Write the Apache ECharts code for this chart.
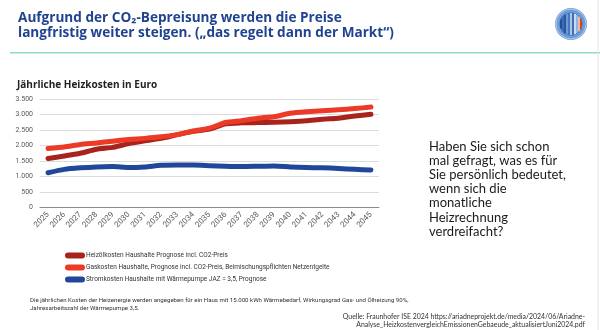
<!DOCTYPE html>
<html><head><meta charset="utf-8">
<script src="https://cdn.jsdelivr.net/npm/echarts@6/dist/echarts.min.js"></script>
<style>html,body{margin:0;padding:0;background:#fff}#c{width:600px;height:330px}</style>
</head><body><div id="c"></div>
<script>
const years = ['2025','2026','2027','2028','2029','2030','2031','2032','2033','2034','2035','2036','2037','2038','2039','2040','2041','2042','2043','2044','2045'];
const oilCost = [1580,1660,1750,1880,1940,2060,2150,2230,2350,2460,2530,2700,2730,2740,2750,2770,2800,2850,2880,2950,3010];
const gasCost = [1900,1950,2030,2080,2140,2190,2230,2280,2350,2470,2560,2740,2800,2880,2930,3040,3090,3120,3150,3190,3240];
const heatPumpCost = [1120,1230,1280,1310,1320,1290,1310,1360,1370,1370,1350,1330,1320,1330,1340,1310,1290,1280,1260,1230,1210];
const seriesNames = [
  'Heizölkosten Haushalte Prognose incl. CO2-Preis',
  'Gaskosten Haushalte, Prognose incl. CO2-Preis, Beimischungspflichten Netzentgelte',
  'Stromkosten Haushalte mit Wärmepumpe JAZ = 3,5, Prognose'
];
const colors = ['#a8231c', '#ec3a26', '#21479b'];

const chart = echarts.init(document.getElementById('c'), null, {renderer: 'canvas'});

// logo stripes
const stripeColors = ['#1f4f9e','#3a6cb8','#26579f','#6f9bd2','#4a78bf','#a9c6e8','#3f70bb','#c9dbf0','#8fb4e0','#f0b7a6','#d9432e'];
const logo = [
  {type:'circle', shape:{cx:571, cy:24, r:16}, style:{fill:'#6e9dd8'}},
  {type:'circle', shape:{cx:571, cy:24, r:15}, style:{fill:'none', stroke:'#dfe9f7', lineWidth:0.6}},
  {type:'circle', shape:{cx:571, cy:24, r:11.5}, style:{fill:'#3d6db7'}}
];
stripeColors.forEach((c, i) => {
  const x0 = 560 + i * 2, xm = x0 + 1 - 571;
  const h = Math.sqrt(Math.max(0, 121 - xm * xm));
  logo.push({type:'rect', shape:{x:x0, y:24 - h, width:2, height:2 * h}, style:{fill:c}});
});

const rightText = ['Haben Sie sich schon','mal gefragt, was es für','Sie persönlich bedeutet,','wenn sich die','monatliche','Heizrechnung','verdreifacht?'];

chart.setOption({
  animation: false,
  color: colors,
  title: {
    text: 'Jährliche Heizkosten in Euro',
    left: 12, top: 75,
    textStyle: {fontFamily: 'Open Sans', fontWeight: 'bold', fontSize: 10, color: '#222'}
  },
  grid: {left: 40, right: 221, top: 99, bottom: 122.5},
  xAxis: {
    type: 'category', data: years, boundaryGap: true,
    axisLine: {lineStyle: {color: '#8c8c8c', width: 1}},
    axisTick: {show: false},
    axisLabel: {rotate: 45, interval: 0, fontSize: 8, color: '#595959', fontFamily: 'Roboto', margin: 6}
  },
  yAxis: {
    type: 'value', min: 0, max: 3500, interval: 500,
    axisLine: {show: false}, axisTick: {show: false},
    splitLine: {lineStyle: {color: '#dcdcdc', width: 1}},
    axisLabel: {
      fontSize: 7, color: '#595959', fontFamily: 'Roboto', margin: 7,
      formatter: v => v.toLocaleString('de-DE')
    }
  },
  legend: {
    orient: 'vertical', left: 60, top: 247,
    itemWidth: 20, itemHeight: 6, itemGap: 5,
    icon: 'path://M3,0 L17,0 A3,3 0 0 1 17,6 L3,6 A3,3 0 0 1 3,0 Z',
    textStyle: {fontSize: 6.5, color: '#333', fontFamily: 'Roboto', padding: [0,0,0,-4]},
    data: seriesNames
  },
  series: [oilCost, gasCost, heatPumpCost].map((d, i) => ({
    name: seriesNames[i], type: 'line', data: d, symbol: 'none', smooth: 0.2,
    lineStyle: {width: 5, cap: 'round', join: 'round', color: colors[i]}
  })),
  graphic: [
    {type:'text', left: 18, top: 11.5, style:{text:'Aufgrund der CO₂-Bepreisung werden die Preise', font:'bold 13.6px "Open Sans"', fill:'#1f438f'}},
    {type:'text', left: 18, top: 26, style:{text:'langfristig weiter steigen. („das regelt dann der Markt“)', font:'bold 13.6px "Open Sans"', fill:'#1f438f'}},
    {type:'line', shape:{x1:10, y1:52.7, x2:600, y2:52.7}, style:{stroke:'#8fdcb8', lineWidth:1.5}},
    {type:'line', shape:{x1:598, y1:0, x2:598, y2:330}, style:{stroke:'#e3e3e3', lineWidth:1}},
    ...logo,
    ...rightText.map((t, i) => ({type:'text', left: 429, top: 140 + i * 14.2,
      style:{text:t, font:'13px Lato', fill:'#1a1a1a'}})),
    {type:'text', left: 30, top: 296, style:{text:'Die jährlichen Kosten der Heizenergie werden angegeben für ein Haus mit 15.000 kWh Wärmebedarf, Wirkungsgrad Gas- und Ölheizung 90%,\nJahresarbeitszahl der Wärmepumpe 3,5.', font:'6.1px Roboto', fill:'#333', lineHeight: 8}},
    {type:'text', x: 585, y: 312.5, style:{
      text:'{n|Quelle: Fraunhofer ISE 2024 }{u|https://ariadneprojekt.de/media/2024/06/Ariadne-}\n{u|Analyse_HeizkostenvergleichEmissionenGebaeude_aktualisiertJuni2024.pdf}',
      align:'right', verticalAlign:'top', lineHeight: 8.5,
      rich:{n:{font:'6.9px Lato', fill:'#333'}, u:{font:'6.9px Lato', fill:'#333', textDecoration:'underline'}}
    }}
  ]
});
</script></body></html>
